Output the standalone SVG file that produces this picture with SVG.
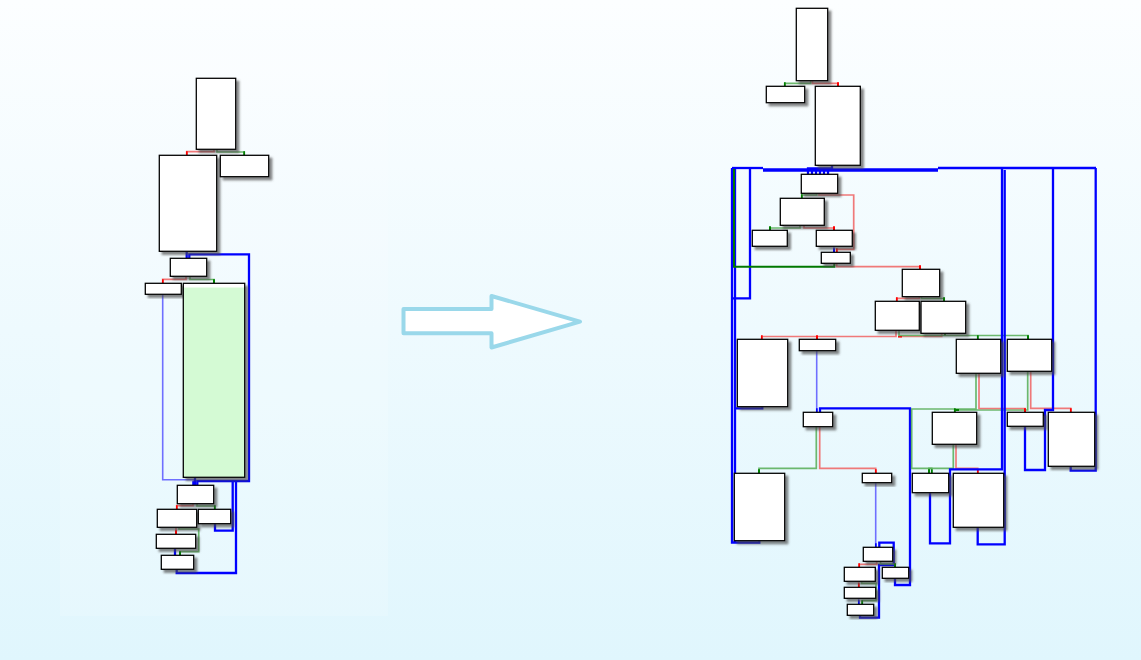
<svg xmlns="http://www.w3.org/2000/svg" width="1141" height="660" viewBox="0 0 1141 660">
<defs>
<linearGradient id="bg" x1="0" y1="0" x2="0" y2="1">
<stop offset="0" stop-color="#fcfeff"/>
<stop offset="1" stop-color="#e0f6fd"/>
</linearGradient>
<filter id="sh" x="-20%" y="-20%" width="160%" height="160%">
<feDropShadow dx="3" dy="3" stdDeviation="1.3" flood-color="#444" flood-opacity="0.65"/>
</filter>
<marker id="mr" viewBox="0 0 4 2" refX="4" refY="1" markerWidth="4" markerHeight="2" markerUnits="userSpaceOnUse" orient="auto"><rect width="4" height="2" fill="#ff0000"/></marker>
<marker id="mg" viewBox="0 0 4 2" refX="4" refY="1" markerWidth="4" markerHeight="2" markerUnits="userSpaceOnUse" orient="auto"><rect width="4" height="2" fill="#008000"/></marker>
<marker id="mb" viewBox="0 0 4 2" refX="4" refY="1" markerWidth="4" markerHeight="2" markerUnits="userSpaceOnUse" orient="auto"><rect width="4" height="2" fill="#0000ff"/></marker>
</defs>
<style>
.n{fill:#fff;stroke:#000;stroke-width:1.3;filter:url(#sh)}
.r{fill:none;stroke:#f06a6a;stroke-opacity:0.9;stroke-width:1.7;marker-end:url(#mr)}
.g{fill:none;stroke:#55ad55;stroke-opacity:0.85;stroke-width:1.7;marker-end:url(#mg)}
.b{fill:none;stroke:#0000ff;stroke-width:2.3}
.lb{fill:none;stroke:#6f6fff;stroke-width:1.6;marker-end:url(#mb)}
.dg{fill:none;stroke:#007800;stroke-width:2}
.arrow{fill:#fff;stroke:#9ad8ea;stroke-width:4;stroke-linejoin:round}
</style>
<rect width="1141" height="660" fill="url(#bg)"/>
<rect x="60" y="43" width="328" height="573" fill="#ffffff" fill-opacity="0.15"/>

<polygon class="arrow" points="403.5,309 491.5,309 491.5,296 580,321.7 491.5,347.5 491.5,333.3 403.5,333.3"/>

<g id="connectors">
<!-- left graph -->
<path class="r" d="M214,149.3 V151.7 H186.7 V155.3"/>
<path class="g" d="M217,149.3 V152 H244.3 V155.3"/>
<path class="b" d="M186.7,251.3 V258.3"/>
<path class="b" d="M189.3,258.3 V254.3 H249 V481 H197.3 V485.3"/>
<path class="r" d="M186,276.3 V279.3 H162.7 V283.3"/>
<path class="g" d="M190,276.3 V279.5 H214 V283.3"/>
<path class="lb" d="M162.7,294.3 V479.7 H193.3 V485.3"/>
<path class="b" d="M195,477.3 V485.3"/>
<path class="b" d="M236,481 V573 H176.7 V569.3"/>
<path class="b" d="M232.7,481 V530.7 H215 V523.7"/>
<path class="r" d="M193,503.7 V505.7 H176.7 V509.3"/>
<path class="g" d="M197,503.7 V506 H214.7 V509.3"/>
<path class="r" d="M176,527.3 V534.3"/>
<path class="g" d="M179,527.3 V529 H198.7 V551.7 H180 V555.3"/>
<path class="b" d="M175,548.3 V555.3"/>

<!-- right graph -->
<path class="g" d="M810.7,80.7 V83.3 H784.7 V86.3"/>
<path class="r" d="M812.5,80.7 V83.3 H838 V86.3"/>
<path class="b" d="M832,165.3 V168.5 H808 V174.3 M812,168.5 V174.3 M816,168.5 V174.3 M820,168.5 V174.3 M824,168.5 V174.3 M828,168.5 V174.3"/>
<path class="b" d="M732,168 H763"/>
<path class="b" style="stroke-width:3.4" d="M763,170 H938"/>
<path class="b" d="M938,168 H1096"/>
<path class="b" d="M759.3,540.7 V542.5 H732 V168"/>
<path class="b" d="M735,168 V543"/>
<path class="b" d="M750,168 V298.3 H732"/>
<path class="b" d="M762.3,406.7 V408.3 H734"/>
<path class="dg" d="M834.3,263.3 V266.7 H734 V169"/>
<path class="g" d="M816.7,193.3 V195 H801.7 V198.3"/>
<path class="r" d="M819,193.3 V195 H853.7 V249.3 H836.7 V252.3"/>
<path class="g" d="M800,225.3 V228 H770 V230.3"/>
<path class="r" d="M804,225.3 V228 H834 V230.3"/>
<path class="lb" d="M834,246.3 V252.3"/>
<path class="r" d="M836.7,263.3 V266.7 H920 V269.3"/>
<path class="r" d="M919.3,296.7 V298.3 H896.7 V301.3"/>
<path class="g" d="M921.5,296.7 V298.5 H944 V301.3"/>
<path class="r" d="M941.7,333.3 V336.5 H898"/>
<path class="r" d="M896,330.3 V336.5 H761.7 V339.3"/>
<path class="r" d="M817,336.5 V339.3"/>
<path class="g" d="M945,333.3 V335.5"/>
<path class="g" d="M899,330.3 V335.5 H1028 V339.3"/>
<path class="g" d="M977.7,335.5 V339.3"/>
<path class="lb" d="M816.7,350.7 V412.3"/>
<path class="b" d="M820,412.3 V408.3 H910 V585 H895 V578.3"/>
<path class="g" d="M976,373.3 V409 H911.7 V468.3 H931.7 V473.3"/>
<path class="g" d="M954.7,409 V412.3"/>
<path class="g" d="M1027.7,371.3 V410 H955"/>
<path class="r" d="M979,373.3 V408.5 H1025 V412.3"/>
<path class="r" d="M1030.7,371.3 V408.3 H1070.7 V412.3"/>
<path class="g" d="M953.3,444.3 V468.3 H929 V473.3"/>
<path class="r" d="M956,444.3 V468.3 H977.7 V473.3"/>
<path class="b" d="M930,492.7 V543.3 H950 V469.3 H1002 V168"/>
<path class="b" d="M977.7,527.3 V544.3 H1004.7 V170"/>
<path class="b" d="M1025,426.3 V470 H1045 V410 H1053 V168"/>
<path class="b" d="M1070.7,466.3 V470.7 H1095.7 V168"/>
<path class="g" d="M816.3,426.7 V468.3 H759 V473.3"/>
<path class="r" d="M819.7,426.7 V468.3 H875.7 V473.3"/>
<path class="lb" d="M875.7,482.7 V547.3"/>
<path class="b" d="M879.3,547.3 V542.7 H893.7 V565 H879 V617.7 H860 V615.3"/>
<path class="r" d="M876.7,561.3 V564.3 H859.3 V567.3"/>
<path class="g" d="M880.5,561.3 V564 H895 V567.3"/>
<path class="r" d="M858.7,581.3 V587.3"/>
<path class="g" d="M861.7,581.3 V583.3 H876 V600.7 H862.3 V604.3"/>
<path class="lb" d="M858.7,598.3 V604.3"/>
</g>

<!-- left graph nodes -->
<g id="L1"><rect class="n" x="196.3" y="78.3" width="39.4" height="71"/></g>
<g id="L2"><rect class="n" x="159.3" y="155.3" width="57.4" height="96"/></g>
<g id="L3"><rect class="n" x="220.3" y="155.3" width="48.4" height="21.4"/></g>
<g id="L4"><rect class="n" x="170.3" y="258.3" width="36.4" height="18"/></g>
<g id="L5"><rect class="n" x="145.3" y="283.3" width="36" height="11"/></g>
<g id="L6"><rect class="n" x="183.3" y="283.3" width="61.4" height="194" style="fill:#d4fad4"/><rect x="184" y="284" width="60" height="3.5" fill="#fff"/></g>
<g id="L7"><rect class="n" x="177.3" y="485.3" width="36.4" height="18.4"/></g>
<g id="L8"><rect class="n" x="157.3" y="509.3" width="39.4" height="18"/></g>
<g id="L9"><rect class="n" x="198.3" y="509.3" width="32.4" height="14.4"/></g>
<g id="L10"><rect class="n" x="156.3" y="534.3" width="39.4" height="14"/></g>
<g id="L11"><rect class="n" x="161.3" y="555.3" width="32.4" height="14"/></g>

<!-- right graph nodes -->
<g id="R1"><rect class="n" x="796.3" y="8.3" width="31.4" height="72.4"/></g>
<g id="R2"><rect class="n" x="766.3" y="86.3" width="38.4" height="16.4"/></g>
<g id="R3"><rect class="n" x="815.3" y="86.3" width="45" height="79"/></g>
<g id="R4"><rect class="n" x="801.3" y="174.3" width="36.4" height="19"/></g>
<g id="R5"><rect class="n" x="780.3" y="198.3" width="44" height="27"/></g>
<g id="R6"><rect class="n" x="752.3" y="230.3" width="35" height="16"/></g>
<g id="R7"><rect class="n" x="816.3" y="230.3" width="36" height="16"/></g>
<g id="R8"><rect class="n" x="821.3" y="252.3" width="29" height="11"/></g>
<g id="R9"><rect class="n" x="902.3" y="269.3" width="37.4" height="27.4"/></g>
<g id="R10"><rect class="n" x="875.3" y="301.3" width="44" height="29"/></g>
<g id="R11"><rect class="n" x="921" y="301.3" width="44.7" height="32"/></g>
<g id="R12"><rect class="n" x="737.3" y="339.3" width="50.4" height="67.4"/></g>
<g id="R13"><rect class="n" x="799.3" y="339.3" width="36.4" height="11.4"/></g>
<g id="R14"><rect class="n" x="956.3" y="339.3" width="44.4" height="34"/></g>
<g id="R15"><rect class="n" x="1007.3" y="339.3" width="44.4" height="32"/></g>
<g id="R16"><rect class="n" x="803.3" y="412.3" width="29.4" height="14.4"/></g>
<g id="R17"><rect class="n" x="932.3" y="412.3" width="44.4" height="32"/></g>
<g id="R18"><rect class="n" x="1007.3" y="412.3" width="36" height="14"/></g>
<g id="R19"><rect class="n" x="1048.3" y="412.3" width="46.4" height="54"/></g>
<g id="R20"><rect class="n" x="734.3" y="473.3" width="50.4" height="67.4"/></g>
<g id="R21"><rect class="n" x="862.3" y="473.3" width="29.4" height="9.4"/></g>
<g id="R22"><rect class="n" x="912.3" y="473.3" width="36.4" height="19.4"/></g>
<g id="R23"><rect class="n" x="953.3" y="473.3" width="50.4" height="54"/></g>
<g id="R24"><rect class="n" x="863.3" y="547.3" width="29.4" height="14"/></g>
<g id="R25"><rect class="n" x="844.3" y="567.3" width="31" height="14"/></g>
<g id="R26"><rect class="n" x="882.3" y="567.3" width="26.4" height="11"/></g>
<g id="R27"><rect class="n" x="844.3" y="587.3" width="31.4" height="11"/></g>
<g id="R28"><rect class="n" x="847.3" y="604.3" width="26.4" height="11"/></g>
</svg>
